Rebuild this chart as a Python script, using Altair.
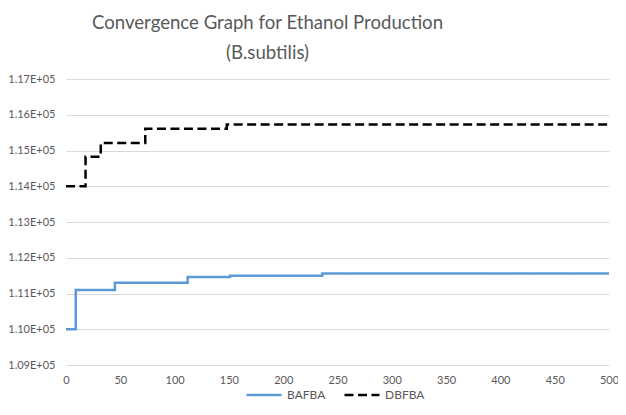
import altair as alt
import pandas as pd

# Data
series_names = ["BAFBA", "DBFBA"]
bafba_x = [0, 9, 45, 112, 151, 236, 500]
bafba_y = [110000, 111100, 111300, 111460, 111500, 111560, 111560]
dbfba_x = [0, 18, 32, 73, 148, 500]
dbfba_y = [114000, 114825, 115210, 115610, 115730, 115730]
y_ticks = [109000, 110000, 111000, 112000, 113000, 114000, 115000, 116000, 117000]
x_ticks = [0, 50, 100, 150, 200, 250, 300, 350, 400, 450, 500]

rows = []
for xv, yv in zip(bafba_x, bafba_y):
    rows.append({"iter": xv, "val": yv, "series": "BAFBA"})
for xv, yv in zip(dbfba_x, dbfba_y):
    rows.append({"iter": xv, "val": yv, "series": "DBFBA"})
df = pd.DataFrame(rows)

FONT = "Lato"
GRAY = "#595959"
W, H = 543, 286
PAD_L, PAD_T = 58, 71
SVG_W, SVG_H = 610, 395

leg = alt.Legend(title=None, orient="none", direction="horizontal",
                 legendX=179, legendY=H + 11)

chart = alt.Chart(df).mark_line(interpolate="step-after", strokeWidth=2.5).encode(
    x=alt.X("iter:Q", scale=alt.Scale(domain=[0, 500], nice=False),
            axis=alt.Axis(values=x_ticks, title=None, grid=False, domain=False, ticks=False,
                          labelPadding=9, labelFlush=False)),
    y=alt.Y("val:Q", scale=alt.Scale(domain=[109000, 117000], nice=False, zero=False),
            axis=alt.Axis(values=y_ticks, title=None, domain=False, ticks=False,
                          labelExpr="format(datum.value/100000, '.2f') + 'E+05'",
                          labelPadding=11)),
    color=alt.Color("series:N", scale=alt.Scale(domain=series_names, range=["#5b9bd5", "#000000"]),
                    legend=leg),
    strokeDash=alt.StrokeDash("series:N", scale=alt.Scale(domain=series_names, range=[[1, 0], [9, 4.5]]),
                              legend=leg),
).properties(
    width=W,
    height=H,
    autosize=alt.AutoSizeParams(type="none"),
    padding={"left": PAD_L, "right": SVG_W - PAD_L - W, "top": PAD_T, "bottom": SVG_H - PAD_T - H},
    title=alt.TitleParams(
        text=["Convergence Graph for Ethanol Production", "(B.subtilis)"],
        font=FONT, fontSize=18.6, fontWeight="normal", color=GRAY,
        anchor="middle", dx=-70, lineHeight=30, offset=10,
    ),
).configure_view(stroke=None).configure_axis(
    labelFont=FONT, labelFontSize=11, labelColor=GRAY, gridColor="#d9d9d9", gridWidth=1,
).configure_legend(
    labelFont=FONT, labelFontSize=12, labelColor=GRAY, symbolType="stroke",
    symbolSize=1225, symbolStrokeWidth=2.5, columnPadding=13, labelOffset=4,
)

chart.save("out.html", embed_options={"renderer": "svg", "actions": False})
